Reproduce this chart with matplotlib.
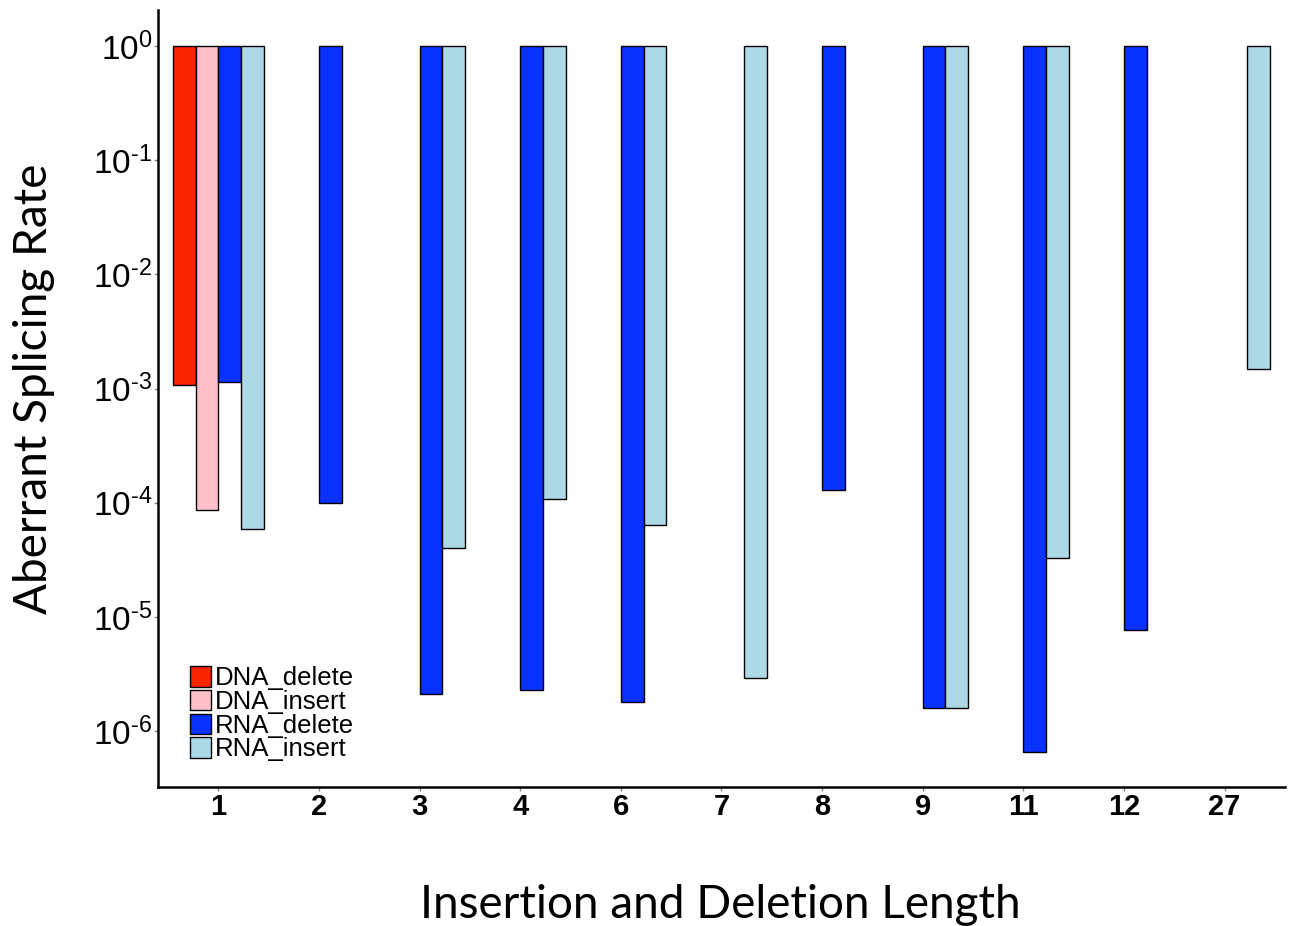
import matplotlib
matplotlib.use("Agg")
import matplotlib.pyplot as plt
import numpy as np

# ---- data ----
lengths = ["1", "2", "3", "4", "6", "7", "8", "9", "11", "12", "27"]
series = ["DNA_delete", "DNA_insert", "RNA_delete", "RNA_insert"]
colors = ["#F92400", "#FFC0CB", "#0A32FF", "#ADD8E6"]

# bottom value of each bar (bars hang from 1), None = no bar
dna_delete = [1.07e-3, None, None, None, None, None, None, None, None, None, None]
dna_insert = [8.7e-5, None, None, None, None, None, None, None, None, None, None]
rna_delete = [1.15e-3, 1.0e-4, 2.1e-6, 2.3e-6, 1.8e-6, None, 1.3e-4, 1.6e-6, 6.6e-7, 7.7e-6, None]
rna_insert = [5.9e-5, None, 4.0e-5, 1.07e-4, 6.4e-5, 2.9e-6, None, 1.6e-6, 3.3e-5, None, 1.5e-3]

values = [dna_delete, dna_insert, rna_delete, rna_insert]

plt.rcParams["mathtext.fontset"] = "custom"
plt.rcParams["mathtext.rm"] = "Liberation Sans"
plt.rcParams["mathtext.it"] = "Liberation Sans"

fig = plt.figure(figsize=(12.93, 9.26), dpi=100)
ax = fig.add_axes([0.1222, 0.150, 0.8716, 0.839])

width = 0.225
x = np.arange(len(lengths))
for i, (name, vals, c) in enumerate(zip(series, values, colors)):
    offs = (i - 1.5) * width
    xs = [x[j] + offs for j, v in enumerate(vals) if v is not None]
    bots = [v for v in vals if v is not None]
    heights = [1 - b for b in bots]
    ax.bar(xs, heights, bottom=bots, width=width, color=c, edgecolor="black",
           linewidth=1.0, label=name)

ax.set_yscale("log")
ax.set_ylim(10 ** -6.49, 10 ** 0.315)
ax.set_xlim(-0.6, len(lengths) - 0.4)

yt = [1, 1e-1, 1e-2, 1e-3, 1e-4, 1e-5, 1e-6]
ylabels = [r"$10^{0}$"] + [r"$10^{\text{-%d}}$" % p for p in range(1, 7)]
ax.set_yticks(yt)
ax.set_yticklabels(ylabels, fontsize=24, family="Liberation Sans")
ax.yaxis.set_minor_locator(matplotlib.ticker.NullLocator())
ax.set_xticks(x)
ax.set_xticklabels(lengths, fontsize=21, fontweight="bold", family="Liberation Sans")
ax.tick_params(axis="both", length=3, color="#888888", width=1)
ax.tick_params(axis="x", pad=1)
ax.tick_params(axis="y", pad=1)

for s in ["top", "right"]:
    ax.spines[s].set_visible(False)
for s in ["left", "bottom"]:
    ax.spines[s].set_linewidth(1.8)

fig.text(0.557, 0.0227, "Insertion and Deletion Length", fontsize=33, family="Lato",
         ha="center", va="center")
fig.text(0.026, 0.58, "Aberrant Splicing Rate", fontsize=33, family="Lato",
         rotation=90, ha="center", va="center")

leg = ax.legend(loc="lower left", bbox_to_anchor=(0.012, 0.01), frameon=False,
                prop={"family": "Liberation Sans", "size": 18.5},
                handlelength=0.85, handleheight=0.85, handletextpad=0.12,
                labelspacing=-0.02, borderpad=0.2)

fig.savefig("out.png", dpi=100)
